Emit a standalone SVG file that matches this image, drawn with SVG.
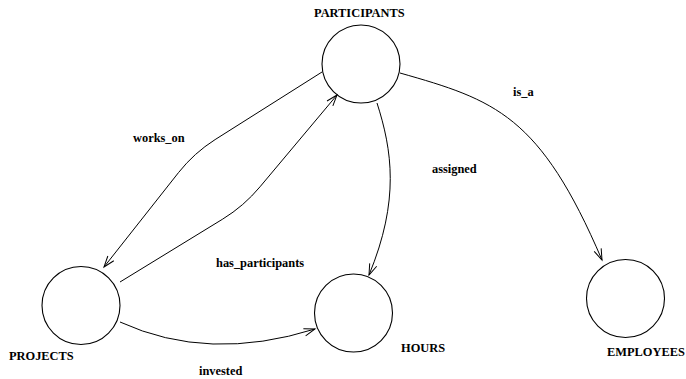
<svg xmlns="http://www.w3.org/2000/svg" width="686" height="379" viewBox="0 0 686 379">
  <style>
    .node { fill: none; stroke: #000; stroke-width: 1.1; }
    .edge { fill: none; stroke: #000; stroke-width: 1; marker-end: url(#vee); }
    .lbl { font-family: "Liberation Serif", "Times New Roman", serif; font-weight: bold; font-size: 12.4px; fill: #000; }
  </style>
  <defs>
    <marker id="vee" markerUnits="userSpaceOnUse" viewBox="-12 -6 14 12" refX="0" refY="0" markerWidth="14" markerHeight="12" orient="auto" overflow="visible">
      <path d="M-11,-3.8 L0,0 L-11,3.8" fill="none" stroke="#000" stroke-width="1"/>
    </marker>
  </defs>

  <rect width="686" height="379" fill="#fff"/>

  <g id="connectors">
    <!-- works_on: PARTICIPANTS -> PROJECTS -->
    <path class="edge" d="M322,72 L215.1,139.6 Q194,153 178.5,172.6 L104,267"/>
    <!-- has_participants: PROJECTS -> PARTICIPANTS -->
    <path class="edge" d="M120,282 L222.7,219.1 Q244,206 260,186.8 L337,95"/>
    <!-- assigned: PARTICIPANTS -> HOURS -->
    <path class="edge" d="M377,103 C392,150 400,200 369,275"/>
    <!-- is_a: PARTICIPANTS -> EMPLOYEES -->
    <path class="edge" d="M400,73 C495,100 540,115 602,260"/>
    <!-- invested: PROJECTS -> HOURS -->
    <path class="edge" d="M120,322 Q208.5,362.5 315,329"/>
    <text class="lbl" x="133" y="142">works_on</text>
    <text class="lbl" x="216" y="267">has_participants</text>
    <text class="lbl" x="432" y="173">assigned</text>
    <text class="lbl" x="513" y="96">is_a</text>
    <text class="lbl" x="199" y="375">invested</text>
  </g>

  <g id="participants">
    <circle class="node" cx="361" cy="64" r="39"/>
    <text class="lbl" x="314" y="17">PARTICIPANTS</text>
  </g>
  <g id="projects">
    <circle class="node" cx="81" cy="305.5" r="39"/>
    <text class="lbl" x="9" y="360">PROJECTS</text>
  </g>
  <g id="hours">
    <circle class="node" cx="353.5" cy="313" r="39"/>
    <text class="lbl" x="401" y="352">HOURS</text>
  </g>
  <g id="employees">
    <circle class="node" cx="625.5" cy="298.5" r="39"/>
    <text class="lbl" x="607" y="356">EMPLOYEES</text>
  </g>
</svg>
